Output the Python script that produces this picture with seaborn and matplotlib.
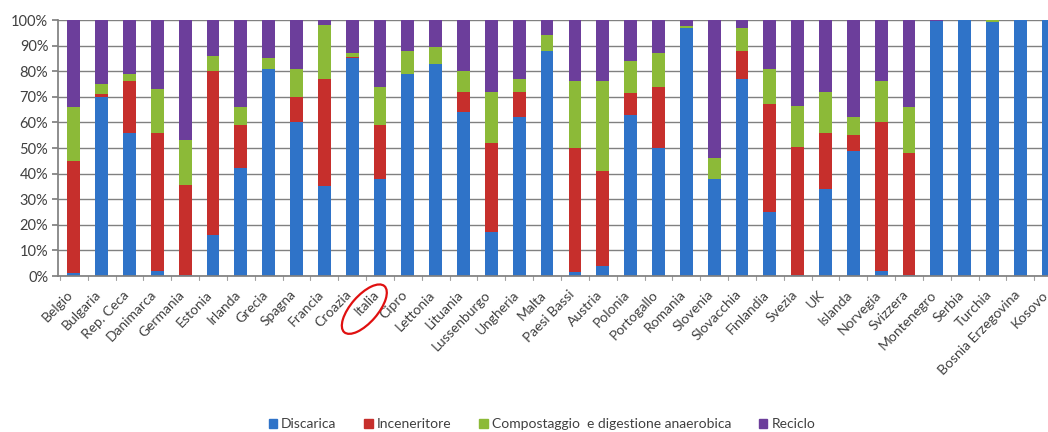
import matplotlib
matplotlib.use("Agg")
import matplotlib.pyplot as plt
from matplotlib.patches import Patch, Ellipse
from matplotlib.transforms import IdentityTransform, ScaledTranslation
import numpy as np
import seaborn as sns

countries = ["Belgio", "Bulgaria", "Rep. Ceca", "Danimarca", "Germania", "Estonia", "Irlanda",
             "Grecia", "Spagna", "Francia", "Croazia", "Italia", "Cipro", "Lettonia", "Lituania",
             "Lussenburgo", "Ungheria", "Malta", "Paesi Bassi", "Austria", "Polonia", "Portogallo",
             "Romania", "Slovenia", "Slovacchia", "Finlandia", "Svezia", "UK", "Islanda", "Norvegia",
             "Svizzera", "Montenegro", "Serbia", "Turchia", "Bosnia Erzegovina", "Kosovo"]

discarica = [1, 70, 56, 2, 0.5, 16, 42, 81, 60, 35, 85, 38, 79, 83, 64, 17, 62, 88, 1.5, 4, 63, 50,
             97, 38, 77, 25, 0.5, 34, 49, 2, 0.5, 99.5, 100, 99.3, 100, 100]
inceneritore = [44, 1, 20, 54, 35, 64, 17, 0, 10, 42, 0.5, 21, 0, 0, 8, 35, 10, 0, 48.5, 37, 8.5, 24,
                0, 0, 11, 42, 50, 22, 6, 58, 47.5, 0, 0, 0, 0, 0]
compostaggio = [21, 4, 3, 17, 17.5, 6, 7, 4, 11, 21, 1.5, 15, 9, 6.5, 8, 20, 5, 6, 26, 35, 12.5, 13,
                0.5, 8, 9, 14, 16, 16, 7, 16, 18, 0, 0, 0.7, 0, 0]
riciclo = [34, 25, 21, 27, 47, 14, 34, 15, 19, 2, 13, 26, 12, 10.5, 20, 28, 23, 6, 24, 24, 16, 13,
           2.5, 54, 3, 19, 33.5, 28, 38, 24, 34, 0.5, 0, 0, 0, 0]

series_names = ["Discarica", "Inceneritore", "Compostaggio  e digestione anaerobica", "Reciclo"]
colors = ["#2f73c8", "#c62f2c", "#8cba38", "#6c3e9b"]

sns.set_theme(style="white")
plt.rcParams["font.family"] = ["Lato", "DejaVu Sans"]

fig = plt.figure(figsize=(10.48, 4.32), dpi=100)
ax = fig.add_axes([58 / 1048, 156 / 432, 1006 / 1048, 256 / 432])

d = np.array(discarica)
i = np.array(inceneritore)
c = np.array(compostaggio)
r = np.array(riciclo)
layers = [d + i + c + r, d + i + c, d + i, d]
layer_colors = [colors[3], colors[2], colors[1], colors[0]]
for vals, col in zip(layers, layer_colors):
    sns.barplot(x=countries, y=vals, order=countries, color=col, saturation=1,
                width=0.46, errorbar=None, ax=ax, linewidth=0)

ax.set_xlim(-0.57, len(countries) - 0.43)
ax.set_ylim(0, 100)
ax.set_yticks(np.arange(0, 101, 10))
ax.set_yticklabels([f"{v}%" for v in range(0, 101, 10)], fontsize=10.5, color="#404040")
ax.yaxis.grid(True, color="#808080", linewidth=1)
ax.set_axisbelow(True)
ax.tick_params(axis="y", length=4, color="#808080", left=True, pad=3)

ax.set_xticks(range(len(countries)))
ax.set_xticklabels(countries, rotation=46, ha="right", va="top", rotation_mode="anchor",
                   fontsize=10, color="#404040")
ax.tick_params(axis="x", length=0, pad=9)
shift = ScaledTranslation(-5 / 72, 0, fig.dpi_scale_trans)
for lab in ax.get_xticklabels():
    lab.set_transform(lab.get_transform() + shift)
for xb in np.arange(-0.5, len(countries), 1):
    ax.plot([xb, xb], [0, -1.6], color="#a0a0a0", lw=0.8, clip_on=False)

for s in ["top", "right"]:
    ax.spines[s].set_visible(False)
ax.spines["left"].set_color("#808080")
ax.spines["bottom"].set_color("#808080")
ax.set_xlabel("")
ax.set_ylabel("")

handles = [Patch(facecolor=col, edgecolor=col) for col in colors]
fig.legend(handles, series_names, loc="center", bbox_to_anchor=(542 / 1048, 1 - 424 / 432),
           ncol=4, frameon=False, handlelength=0.6, handleheight=0.6, handletextpad=0.3,
           columnspacing=2.0, fontsize=10, labelcolor="#404040")

fig.canvas.draw()
renderer = fig.canvas.get_renderer()
lab = ax.get_xticklabels()[countries.index("Italia")]
bb = lab.get_window_extent(renderer)
cx, cy = (bb.x0 + bb.x1) / 2, (bb.y0 + bb.y1) / 2
diag = np.hypot(bb.width, bb.height)
ell = Ellipse((cx - 3, cy - 6), width=diag + 20, height=27, angle=49, transform=IdentityTransform(),
              fill=False, edgecolor="#e01010", linewidth=1.6)
fig.add_artist(ell)

fig.savefig("out.png", dpi=100)
